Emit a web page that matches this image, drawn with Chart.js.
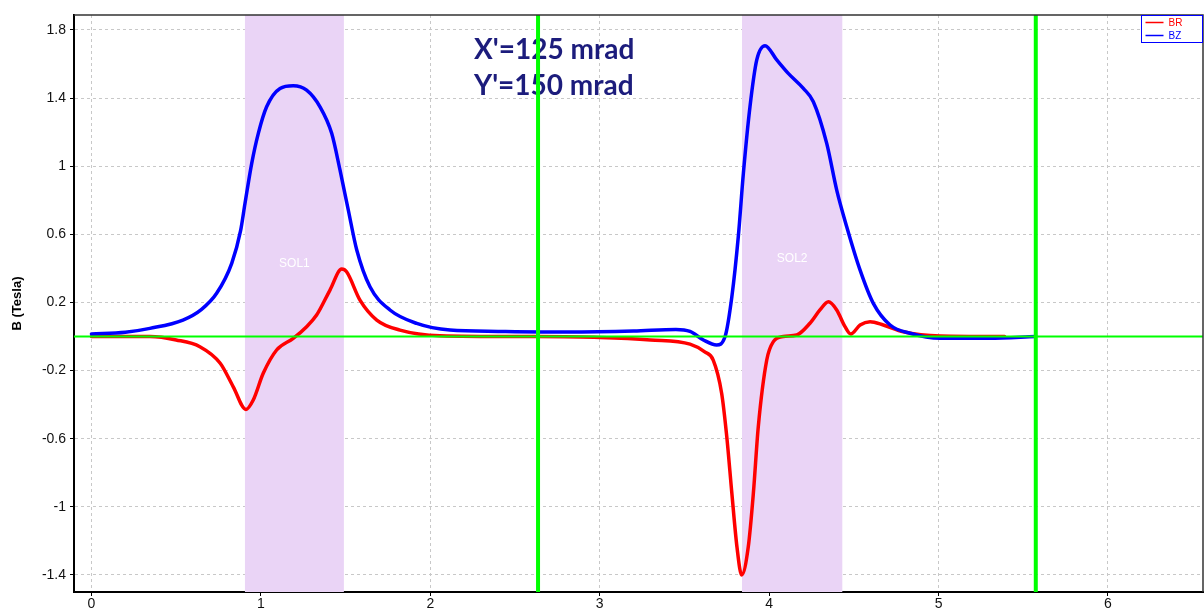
<!DOCTYPE html>
<html>
<head>
<meta charset="utf-8">
<title>B (Tesla)</title>
<script src="https://cdn.jsdelivr.net/npm/chart.js@4/dist/chart.umd.min.js"></script>
<style>
  html, body { margin: 0; padding: 0; background: #fff; }
  #wrap { width: 1204px; height: 610px; }
</style>
</head>
<body>
<div id="wrap"><canvas id="fieldChart" width="1204" height="610"></canvas></div>
<script>
// field values (position, Tesla)
var posBR = [0, 0.345, 0.5, 0.64, 0.76, 0.837, 0.912, 0.955, 1.014, 1.093, 1.191, 1.27, 1.329, 1.408, 1.477, 1.506,
  1.585, 1.684, 1.821, 2.057, 2.6, 3.0, 3.3, 3.533, 3.62, 3.67, 3.72, 3.75, 3.78, 3.81, 3.838, 3.877, 3.907, 3.936,
  3.986, 4.025, 4.084, 4.163, 4.241, 4.3, 4.35, 4.399, 4.448, 4.482, 4.537, 4.596, 4.674, 4.792, 5.01, 5.39];
var valBR = [0, 0, -0.02, -0.06, -0.157, -0.295, -0.428, -0.373, -0.216, -0.079, -0.011, 0.058, 0.126, 0.273, 0.396, 0.38,
  0.214, 0.097, 0.038, 0.005, 0, -0.005, -0.02, -0.045, -0.09, -0.138, -0.334, -0.588, -0.92, -1.234, -1.4, -1.234, -0.92, -0.53,
  -0.138, -0.03, 0, 0.009, 0.078, 0.156, 0.204, 0.156, 0.058, 0.015, 0.068, 0.087, 0.068, 0.028, 0.003, 0];

var posBZ = [0, 0.2, 0.345, 0.54, 0.65, 0.739, 0.828, 0.88, 0.906, 0.946, 0.985, 1.034, 1.113, 1.191, 1.27, 1.349, 1.418, 1.467,
  1.516, 1.566, 1.644, 1.762, 1.92, 2.116, 2.4, 2.8, 3.2, 3.45, 3.533, 3.612, 3.69, 3.74, 3.78, 3.818, 3.848, 3.887,
  3.927, 3.976, 4.045, 4.113, 4.202, 4.261, 4.34, 4.399, 4.458, 4.537, 4.615, 4.714, 4.832, 5.01, 5.3, 5.574];
var valBZ = [0.015, 0.025, 0.048, 0.097, 0.16, 0.254, 0.43, 0.62, 0.78, 1.017, 1.193, 1.349, 1.457, 1.473, 1.447, 1.349, 1.193, 0.978,
  0.743, 0.508, 0.292, 0.156, 0.077, 0.038, 0.03, 0.026, 0.032, 0.042, 0.03, -0.02, -0.05, 0, 0.234, 0.586, 0.958, 1.349,
  1.624, 1.708, 1.624, 1.545, 1.457, 1.379, 1.134, 0.86, 0.645, 0.39, 0.195, 0.068, 0.019, -0.01, -0.01, 0];

var xTickValues = [0, 1, 2, 3, 4, 5, 6];
var yTickValues = [-1.4, -1, -0.6, -0.2, 0.2, 0.6, 1, 1.4, 1.8];

// marker lines and solenoid zones
var markerPos = [2.636, 5.574];
var solNames = ['SOL1', 'SOL2'];
var solStart = [0.906, 3.84];
var solEnd = [1.49, 4.432];
var solLabelY = [0.43, 0.46];
var noteLines = ["X'=125 mrad", "Y'=150 mrad"];

var X_MIN = -0.103, X_MAX = 6.561, Y_MIN = -1.5, Y_MAX = 1.888;

function toPoints(xs, ys) {
  return xs.map(function (x, i) { return { x: x, y: ys[i] }; });
}

var greenSets = markerPos.map(function (p) {
  return {
    label: '', data: [{ x: p, y: Y_MIN }, { x: p, y: Y_MAX }], showLine: true,
    borderColor: '#00ff00', borderWidth: 4, pointRadius: 0, order: 0
  };
});
greenSets.push({
  label: '', data: [{ x: X_MIN, y: 0 }, { x: X_MAX, y: 0 }], showLine: true,
  borderColor: '#00ff00', borderWidth: 2, pointRadius: 0, order: 0
});

// bands + notes behind the curves
var bandPlugin = {
  id: 'bands',
  beforeDatasetsDraw: function (chart) {
    var ctx = chart.ctx, xs = chart.scales.x, ys = chart.scales.y, a = chart.chartArea;
    ctx.save();
    ctx.fillStyle = '#ead4f6';
    for (var i = 0; i < solNames.length; i++) {
      var l = xs.getPixelForValue(solStart[i]), r = xs.getPixelForValue(solEnd[i]);
      ctx.fillRect(l, a.top, r - l, a.bottom - a.top);
    }
    ctx.fillStyle = '#ffffff';
    ctx.font = '12px "Liberation Sans", Arial, sans-serif';
    ctx.textAlign = 'center';
    ctx.textBaseline = 'middle';
    for (var j = 0; j < solNames.length; j++) {
      ctx.fillText(solNames[j], xs.getPixelForValue((solStart[j] + solEnd[j]) / 2), ys.getPixelForValue(solLabelY[j]));
    }
    ctx.fillStyle = '#1c1c7c';
    ctx.font = 'bold 28px Lato, "Open Sans", sans-serif';
    ctx.textAlign = 'left';
    ctx.textBaseline = 'alphabetic';
    ctx.fillText(noteLines[0], 474, 59);
    ctx.fillText(noteLines[1], 474, 95);
    ctx.restore();
  }
};

// frame and little legend box
var framePlugin = {
  id: 'frame',
  afterDraw: function (chart) {
    var ctx = chart.ctx, a = chart.chartArea;
    ctx.save();
    ctx.strokeStyle = '#333';
    ctx.lineWidth = 1.5;
    ctx.beginPath();
    ctx.moveTo(a.left, a.top);
    ctx.lineTo(a.right, a.top);
    ctx.lineTo(a.right, a.bottom);
    ctx.stroke();

    var bx = 1141.5, by = 15.5, bw = 61, bh = 27;
    ctx.fillStyle = '#fff';
    ctx.fillRect(bx, by, bw, bh);
    ctx.strokeStyle = '#0000ff';
    ctx.lineWidth = 1;
    ctx.strokeRect(bx, by, bw, bh);
    var shown = chart.data.datasets.filter(function (d) { return d.label; });
    ctx.font = '10px "Liberation Sans", Arial, sans-serif';
    ctx.textBaseline = 'middle';
    shown.forEach(function (d, k) {
      var yy = by + 7 + k * 13;
      ctx.strokeStyle = d.borderColor;
      ctx.lineWidth = 1.5;
      ctx.beginPath();
      ctx.moveTo(bx + 4, yy);
      ctx.lineTo(bx + 22, yy);
      ctx.stroke();
      ctx.fillStyle = d.borderColor;
      ctx.fillText(d.label, bx + 27, yy + 1);
    });
    ctx.restore();
  }
};

var tickFont = { family: '"Liberation Sans", Arial, sans-serif', size: 14 };
function plainLabel(v) { return String(v); }

new Chart(document.getElementById('fieldChart'), {
  type: 'scatter',
  data: {
    datasets: greenSets.concat([
      {
        label: 'BR', data: toPoints(posBR, valBR), showLine: true,
        borderColor: '#ff0000', borderWidth: 3.5, pointRadius: 0,
        cubicInterpolationMode: 'monotone', order: 2
      },
      {
        label: 'BZ', data: toPoints(posBZ, valBZ), showLine: true,
        borderColor: '#0000ff', borderWidth: 3.5, pointRadius: 0,
        cubicInterpolationMode: 'monotone', order: 1
      }
    ])
  },
  options: {
    responsive: false,
    devicePixelRatio: 1,
    animation: false,
    layout: { padding: { top: 15, right: 1, left: 0, bottom: 0 } },
    plugins: { legend: { display: false }, tooltip: { enabled: false } },
    elements: { line: { borderCapStyle: 'round', borderJoinStyle: 'round' } },
    scales: {
      x: {
        type: 'linear', min: X_MIN, max: X_MAX,
        afterBuildTicks: function (s) { s.ticks = xTickValues.map(function (v) { return { value: v }; }); },
        afterFit: function (s) { s.height = 18; },
        ticks: { font: tickFont, color: '#111', padding: 0, maxRotation: 0, callback: plainLabel },
        grid: { color: '#c8c8c8', tickLength: 4, tickColor: '#000', tickBorderDash: [] },
        border: { color: '#000', width: 2, dash: [3, 3] }
      },
      y: {
        type: 'linear', min: Y_MIN, max: Y_MAX,
        afterBuildTicks: function (s) { s.ticks = yTickValues.map(function (v) { return { value: v }; }); },
        afterFit: function (s) { s.width = 74; },
        ticks: { font: tickFont, color: '#111', padding: 4, callback: plainLabel },
        grid: { color: '#c8c8c8', tickLength: 4, tickColor: '#000', tickBorderDash: [] },
        border: { color: '#000', width: 2, dash: [3, 3] },
        title: {
          display: true, text: 'B (Tesla)', color: '#000',
          font: { family: '"Liberation Sans", Arial, sans-serif', size: 13, weight: 'bold' },
          padding: { top: 10, bottom: 0 }
        }
      }
    }
  },
  plugins: [bandPlugin, framePlugin]
});
</script>
</body>
</html>
